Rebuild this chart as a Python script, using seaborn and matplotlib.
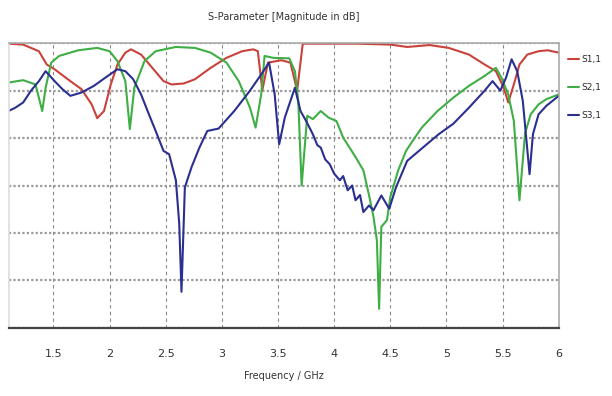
import numpy as np
import pandas as pd
import matplotlib
matplotlib.use("Agg")
import matplotlib.pyplot as plt
import seaborn as sns

series_names = ["S1,1", "S2,1", "S3,1"]

s11_freq = [1.10, 1.23, 1.37, 1.44, 1.51, 1.65, 1.75, 1.84, 1.89, 1.95, 2.01, 2.07, 2.14, 2.19,
            2.28, 2.38, 2.48, 2.55, 2.66, 2.76, 2.90, 3.04, 3.18, 3.28, 3.32, 3.36, 3.41, 3.53,
            3.61, 3.67, 3.72, 3.90, 4.20, 4.50, 4.65, 4.85, 5.02, 5.20, 5.34, 5.44, 5.51, 5.55,
            5.60, 5.65, 5.72, 5.82, 5.90, 6.00]
s11_db = [-0.1, -0.3, -1.7, -4.5, -5.5, -8.0, -9.7, -12.9, -15.8, -14.3, -8.7, -4.5, -2.0, -1.3,
          -2.4, -5.2, -8.0, -8.7, -8.5, -7.6, -5.2, -3.1, -1.7, -1.3, -1.7, -9.9, -4.1, -3.6,
          -4.1, -10.0, -0.1, -0.1, -0.1, -0.3, -0.8, -0.4, -1.0, -2.4, -4.5, -5.9, -9.4, -12.5,
          -8.7, -4.5, -2.4, -1.7, -1.5, -2.0]

s21_freq = [1.10, 1.23, 1.34, 1.37, 1.40, 1.43, 1.48, 1.55, 1.72, 1.89, 2.00, 2.07, 2.14, 2.18,
            2.22, 2.31, 2.41, 2.59, 2.76, 2.90, 3.04, 3.15, 3.25, 3.30, 3.35, 3.38, 3.46, 3.60,
            3.65, 3.68, 3.71, 3.76, 3.81, 3.88, 3.95, 4.02, 4.08, 4.19, 4.26, 4.31, 4.35, 4.38,
            4.40, 4.42, 4.47, 4.50, 4.57, 4.64, 4.71, 4.78, 4.92, 5.06, 5.20, 5.34, 5.44, 5.49,
            5.55, 5.60, 5.65, 5.70, 5.75, 5.82, 5.89, 6.00]
s21_db = [-8.3, -7.8, -8.7, -11.5, -14.3, -9.4, -4.1, -2.7, -1.5, -1.0, -1.7, -3.8, -8.0, -18.1,
          -9.4, -3.8, -1.7, -0.8, -1.0, -2.0, -4.1, -8.0, -13.6, -17.8, -10.8, -2.7, -3.1, -3.2,
          -5.9, -12.2, -30.0, -15.3, -16.0, -14.3, -15.7, -16.4, -19.9, -24.0, -26.8, -32.0, -36.6, -41.5,
          -56.0, -38.7, -37.3, -32.4, -26.8, -22.7, -20.2, -17.8, -14.3, -11.5, -9.0, -6.9, -5.2, -7.3,
          -10.8, -16.4, -33.1, -19.0, -15.0, -12.9, -11.8, -10.8]

s31_freq = [1.10, 1.16, 1.23, 1.30, 1.37, 1.43, 1.51, 1.58, 1.65, 1.75, 1.86, 1.96, 2.07, 2.14,
            2.21, 2.28, 2.35, 2.41, 2.48, 2.53, 2.59, 2.62, 2.64, 2.67, 2.73, 2.80, 2.87, 2.97,
            3.11, 3.25, 3.35, 3.42, 3.47, 3.51, 3.56, 3.65, 3.70, 3.75, 3.81, 3.85, 3.88, 3.92,
            3.96, 4.00, 4.05, 4.08, 4.12, 4.16, 4.19, 4.23, 4.26, 4.31, 4.35, 4.42, 4.49, 4.55,
            4.65, 4.79, 4.93, 5.06, 5.20, 5.34, 5.41, 5.48, 5.53, 5.58, 5.63, 5.68, 5.74, 5.77,
            5.82, 5.89, 6.00]
s31_db = [-14.3, -13.6, -12.5, -10.0, -8.0, -5.9, -8.0, -9.7, -11.1, -10.4, -9.0, -7.3, -5.5, -5.9,
          -7.6, -10.8, -15.0, -18.5, -22.7, -23.4, -28.9, -38.0, -52.4, -30.4, -26.1, -22.0, -18.5, -18.0,
          -14.3, -10.0, -6.6, -4.1, -10.8, -21.3, -15.7, -9.4, -14.3, -16.4, -19.2, -21.5, -22.0, -24.5,
          -25.5, -27.5, -28.9, -28.0, -31.0, -30.0, -33.1, -32.0, -35.6, -34.2, -35.2, -32.1, -34.9, -30.4,
          -24.8, -22.0, -19.2, -17.0, -13.6, -10.0, -8.0, -10.0, -7.3, -3.4, -5.9, -12.2, -27.6, -19.2,
          -15.0, -13.2, -11.1]

x_ticks = [1.5, 2, 2.5, 3, 3.5, 4, 4.5, 5, 5.5, 6]
x_tick_labels = ["1.5", "2", "2.5", "3", "3.5", "4", "4.5", "5", "5.5", "6"]

df = pd.concat([
    pd.DataFrame({"freq": s11_freq, "db": s11_db, "param": series_names[0]}),
    pd.DataFrame({"freq": s21_freq, "db": s21_db, "param": series_names[1]}),
    pd.DataFrame({"freq": s31_freq, "db": s31_db, "param": series_names[2]}),
], ignore_index=True)

sns.set_style("white")
plt.rcParams["font.family"] = ["DejaVu Sans"]

fig = plt.figure(figsize=(6.12, 3.96), dpi=100)
ax = fig.add_axes([0.014, 0.172, 0.899, 0.719])

palette = {"S1,1": "#c9423c", "S2,1": "#3fae45", "S3,1": "#2b2f8f"}
sns.lineplot(data=df, x="freq", y="db", hue="param", palette=palette,
             estimator=None, sort=False, linewidth=1.5, ax=ax)

ax.set_xlim(1.1, 6.0)
ax.set_ylim(-60, 0)
ax.set_xticks(x_ticks)
ax.set_xticklabels(x_tick_labels, fontsize=8, color="#333333")
ax.set_yticks(np.arange(-60, 1, 10))
ax.set_yticklabels([])
ax.tick_params(axis="y", length=0)
ax.tick_params(axis="x", length=3, color="#555555", pad=12)

ax.grid(axis="y", linestyle=(0, (1, 1)), color="#9a9a9a", linewidth=1.6)
ax.grid(axis="x", linestyle=(0, (3, 3)), color="#888888", linewidth=0.8)

for side in ["top", "right", "left"]:
    ax.spines[side].set_color("#aaaaaa")
    ax.spines[side].set_linewidth(1.2)
ax.spines["left"].set_color("#dddddd")
ax.spines["bottom"].set_color("#444444")
ax.spines["bottom"].set_linewidth(1.6)

ax.set_xlabel("Frequency / GHz", fontsize=7, color="#333333", labelpad=9)
ax.set_ylabel("")
ax.set_title("S-Parameter [Magnitude in dB]", fontsize=7, color="#333333", pad=17)

sns.move_legend(ax, "upper left", bbox_to_anchor=(1.01, 0.97), frameon=False,
                title=None, fontsize=6.5, handlelength=1.2, labelspacing=2.1,
                handletextpad=0.3, borderaxespad=0)

fig.savefig("out.png", dpi=100, facecolor="white")
